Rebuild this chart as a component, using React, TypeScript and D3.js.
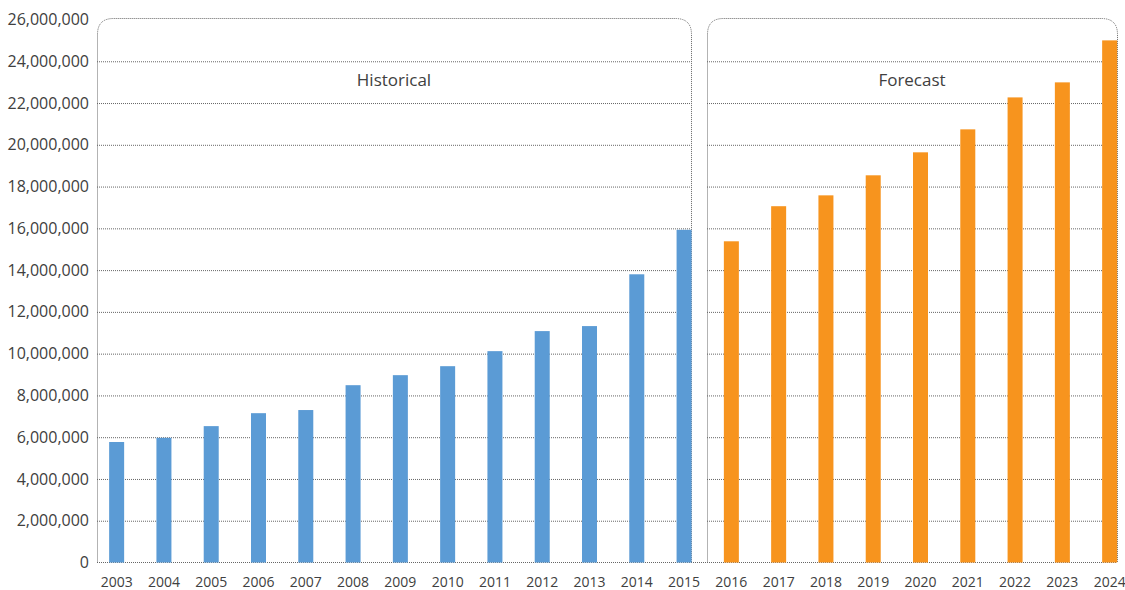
import React from "react";
import * as d3 from "d3";

const histYears = ["2003","2004","2005","2006","2007","2008","2009","2010","2011","2012","2013","2014","2015"];
const histValues = [5770000,5970000,6530000,7150000,7300000,8490000,8970000,9400000,10120000,11080000,11320000,13800000,15930000];
const foreYears = ["2016","2017","2018","2019","2020","2021","2022","2023","2024"];
const foreValues = [15380000,17060000,17580000,18540000,19640000,20740000,22270000,22990000,25000000];
const yTicks = [0,2000000,4000000,6000000,8000000,10000000,12000000,14000000,16000000,18000000,20000000,22000000,24000000,26000000];
const sectionLabels = ["Historical","Forecast"];

const W = 1125, H = 590;
const FONT = "'Open Sans', 'Noto Sans', sans-serif";
const TEXT = "#404040";
const GRID = "#666";

export default function App() {
  const years = [...histYears, ...foreYears];
  const step = 47.286;
  const x = d3.scaleBand<string>().domain(years).range([93, 93 + step * years.length]).padding(0);
  const y = d3.scaleLinear().domain([0, 26000000]).range([562.5, 19.5]);
  const barW = 15;
  const fmt = d3.format(",");
  const boxTop = 18.5;
  const r = 16;
  const base = y(0);
  const boxes = [
    { x0: 97, x1: 691, label: sectionLabels[0] },
    { x0: 707, x1: 1117, label: sectionLabels[1] },
  ];
  const boxPath = (x0: number, x1: number) =>
    `M${x0},${base} V${boxTop + r} Q${x0},${boxTop} ${x0 + r},${boxTop} H${x1 - r} Q${x1},${boxTop} ${x1},${boxTop + r} V${base}`;

  const bars = [
    ...histYears.map((yr, i) => ({ yr, v: histValues[i], c: "#5B9BD5" })),
    ...foreYears.map((yr, i) => ({ yr, v: foreValues[i], c: "#F7941E" })),
  ];

  return (
    <svg width={W} height={H} style={{ position: "absolute", left: 0, top: 0, background: "#fff" }} fontFamily={FONT}>
      {boxes.map((b) =>
        yTicks.filter((t) => t > 0 && t < 26000000).map((t) => (
          <line key={b.label + t} x1={b.x0} x2={b.x1} y1={y(t) + 0.5} y2={y(t) + 0.5} stroke={GRID} strokeWidth={1} strokeDasharray="1,1" />
        ))
      )}
      <line x1={97} x2={1117} y1={base} y2={base} stroke={GRID} strokeWidth={1} strokeDasharray="1,1" />
      {boxes.map((b) => (
        <path key={b.label} d={boxPath(b.x0 + 0.5, b.x1 + 0.5)} fill="none" stroke={GRID} strokeWidth={1} strokeDasharray="1,1" />
      ))}
      {bars.map((d) => {
        const cx = (x(d.yr) as number) + x.bandwidth() / 2;
        return <rect key={d.yr} x={cx - barW / 2} width={barW} y={y(d.v)} height={base - y(d.v)} fill={d.c} />;
      })}
      {boxes.map((b) => (
        <text key={"t" + b.label} x={(b.x0 + b.x1) / 2} y={86} textAnchor="middle" fontSize={17} fill={TEXT}>{b.label}</text>
      ))}
      {yTicks.map((t) => (
        <text key={"y" + t} x={89} y={y(t)} dy="0.35em" textAnchor="end" fontSize={16} fill={TEXT}>{fmt(t)}</text>
      ))}
      {years.map((yr) => (
        <text key={"x" + yr} x={(x(yr) as number) + x.bandwidth() / 2} y={587} textAnchor="middle" fontSize={14} fill={TEXT}>{yr}</text>
      ))}
    </svg>
  );
}
